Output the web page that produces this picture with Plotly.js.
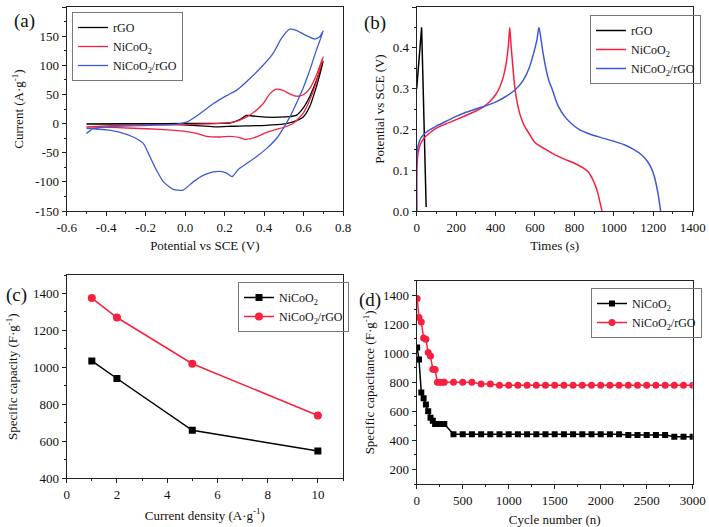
<!DOCTYPE html>
<html><head><meta charset="utf-8">
<script src="https://cdn.plot.ly/plotly-3.0.1.min.js"></script>
<style>html,body{margin:0;padding:0;background:#fff}#chart{width:709px;height:527px}</style>
</head><body><div id="chart"></div>
<script>
// ---------- (a) CV curves ----------
const cvRgoV = [-0.5,-0.3,-0.1,0.1,0.226,0.277,0.31,0.344,0.412,0.479,0.53,0.563,0.597,0.631,0.665,0.7,0.665,0.631,0.597,0.547,0.496,0.41,0.31,0.24,0.159,0.08,-0.01,-0.2,-0.5];
const cvRgoI = [-0.6,-0.3,0,0.5,1,7,14,13,11,11,12,14,26,46,74,107,63,29,11,3,-1,-3,-4,-4.6,-5.7,-4,-2,-1,-1];
const cvNiV = [-0.5,-0.35,-0.1,0.16,0.243,0.31,0.361,0.395,0.429,0.462,0.496,0.53,0.563,0.597,0.631,0.665,0.7,0.665,0.631,0.597,0.547,0.513,0.462,0.412,0.361,0.303,0.277,0.226,0.176,0.109,0.058,-0.01,-0.128,-0.263,-0.431,-0.5];
const cvNiI = [-5.7,-3,-2,0,2,11,23,34,51,59,57,51,47,49,60,83,115,71,40,17,0,-5,-10,-15,-23,-27,-24,-22,-23,-22,-17,-13,-10,-8,-6,-6];
const cvCompV = [-0.5,-0.465,-0.35,-0.18,-0.04,0.01,0.075,0.142,0.21,0.26,0.327,0.395,0.445,0.488,0.53,0.563,0.614,0.656,0.682,0.7,0.665,0.631,0.597,0.563,0.53,0.496,0.462,0.412,0.361,0.31,0.268,0.238,0.21,0.176,0.142,0.091,0.041,-0.01,-0.06,-0.11,-0.145,-0.178,-0.212,-0.263,-0.33,-0.398,-0.465,-0.5];
const cvCompI = [-17,-8.6,-4.6,-2.9,-1,3,17,34,48,57,77,100,120,146,162,160,151,145,149,159,126,91,60,34,11,-9,-26,-43,-57,-69,-79,-91,-85,-82,-83,-89,-100,-114,-113,-100,-80,-57,-34,-23,-15,-11,-9,-8];
const cvXTicks = [-0.6,-0.4,-0.2,0.0,0.2,0.4,0.6,0.8];
const cvXText = ['-0.6','-0.4','-0.2','0.0','0.2','0.4','0.6','0.8'];
const cvYTicks = [-150,-100,-50,0,50,100,150,200];
const cvYText = ['-150','-100','-50','0','50','100','150','200'];

// ---------- (b) GCD curves ----------
const gcdRgoT = [0,12,25,48];
const gcdRgoV = [0.30,0.37,0.45,0.01];
const gcdNiT = [0,0,2,5,10,20,40,70,100,150,200,250,300,340,370,400,420,440,455,465,472,478,485,492,500,510,525,545,570,600,650,700,750,800,850,870,890,905,918,928,935,940];
const gcdNiV = [0,0.09,0.115,0.135,0.15,0.165,0.18,0.193,0.203,0.214,0.224,0.234,0.245,0.256,0.268,0.285,0.302,0.33,0.365,0.405,0.45,0.41,0.37,0.33,0.295,0.265,0.235,0.21,0.19,0.168,0.152,0.138,0.127,0.117,0.104,0.096,0.08,0.064,0.045,0.025,0.01,0];
const gcdCompT = [0,0,2,5,10,20,40,70,100,150,200,250,300,350,400,450,500,540,570,595,610,620,628,640,655,670,690,700,720,750,790,830,880,950,1000,1050,1100,1140,1170,1190,1205,1215,1225,1232,1237];
const gcdCompV = [0,0.13,0.145,0.155,0.165,0.178,0.19,0.2,0.208,0.22,0.232,0.242,0.25,0.258,0.267,0.28,0.297,0.32,0.35,0.39,0.42,0.45,0.43,0.39,0.35,0.32,0.295,0.28,0.255,0.232,0.212,0.198,0.188,0.178,0.171,0.163,0.151,0.138,0.122,0.105,0.085,0.065,0.04,0.018,0];

// ---------- (c) rate capability ----------
const curDensity = [1,2,5,10];
const capNi = [1035,940,660,548];
const capComp = [1375,1270,1020,740];

// ---------- (d) cycling ----------
const cycles = [5,25,50,75,100,125,150,175,200,225,250,275,300,400,500,600,700,800,900,1000,1100,1200,1300,1400,1500,1600,1700,1800,1900,2000,2100,2200,2300,2400,2500,2600,2700,2800,2900,3000];
const cycNi = [1040,957,730,690,647,601,557,535,513,513,513,513,513,443,443,443,443,443,443,443,443,443,443,443,443,443,443,443,443,443,443,443,437,437,437,437,437,426,426,426];
const cycComp = [1377,1246,1216,1106,1097,1005,982,891,888,800,800,800,800,800,800,800,788,788,780,780,780,780,780,780,780,780,780,780,780,780,780,780,780,780,780,780,780,780,780,780];

const BLACK = '#000000', RED = '#f5213f', BLUE = '#3f5bd2';
const FONT = 'Liberation Serif';

function ax(o) {
  return Object.assign({
    showline: true, linecolor: '#222', linewidth: 1, mirror: true,
    ticks: 'outside', ticklen: 4, tickcolor: '#222', tickwidth: 1,
    showgrid: false, zeroline: false, automargin: false,
    tickfont: {family: FONT, size: 13, color: '#111'}
  }, o);
}
function ttl(t, s) { return {text: t, font: {family: FONT, size: 13, color: '#111'}, standoff: s}; }

const traces = [
  {x: cvRgoV, y: cvRgoI, xaxis: 'x', yaxis: 'y', mode: 'lines', name: 'rGO', legend: 'legend',
   line: {color: BLACK, width: 1.3, shape: 'spline', smoothing: 0.6}},
  {x: cvNiV, y: cvNiI, xaxis: 'x', yaxis: 'y', mode: 'lines', name: 'NiCoO<sub>2</sub>', legend: 'legend',
   line: {color: RED, width: 1.3, shape: 'spline', smoothing: 0.6}},
  {x: cvCompV, y: cvCompI, xaxis: 'x', yaxis: 'y', mode: 'lines', name: 'NiCoO<sub>2</sub>/rGO', legend: 'legend',
   line: {color: BLUE, width: 1.3, shape: 'spline', smoothing: 0.6}},

  {x: gcdRgoT, y: gcdRgoV, xaxis: 'x2', yaxis: 'y2', mode: 'lines', name: 'rGO', legend: 'legend2',
   line: {color: BLACK, width: 1.5}},
  {x: gcdNiT, y: gcdNiV, xaxis: 'x2', yaxis: 'y2', mode: 'lines', name: 'NiCoO<sub>2</sub>', legend: 'legend2',
   line: {color: RED, width: 1.5, shape: 'spline', smoothing: 0.8}},
  {x: gcdCompT, y: gcdCompV, xaxis: 'x2', yaxis: 'y2', mode: 'lines', name: 'NiCoO<sub>2</sub>/rGO', legend: 'legend2',
   line: {color: BLUE, width: 1.5, shape: 'spline', smoothing: 0.8}},

  {x: curDensity, y: capNi, xaxis: 'x3', yaxis: 'y3', mode: 'lines+markers', name: 'NiCoO<sub>2</sub>', legend: 'legend3',
   line: {color: BLACK, width: 1.5}, marker: {symbol: 'square', size: 7, color: BLACK}},
  {x: curDensity, y: capComp, xaxis: 'x3', yaxis: 'y3', mode: 'lines+markers', name: 'NiCoO<sub>2</sub>/rGO', legend: 'legend3',
   line: {color: RED, width: 1.5}, marker: {symbol: 'circle', size: 8, color: RED}},

  {x: cycles, y: cycNi, xaxis: 'x4', yaxis: 'y4', mode: 'lines+markers', name: 'NiCoO<sub>2</sub>', legend: 'legend4',
   line: {color: BLACK, width: 1.5}, marker: {symbol: 'square', size: 6, color: BLACK}},
  {x: cycles, y: cycComp, xaxis: 'x4', yaxis: 'y4', mode: 'lines+markers', name: 'NiCoO<sub>2</sub>/rGO', legend: 'legend4',
   line: {color: RED, width: 1.5}, marker: {symbol: 'circle', size: 7, color: RED}}
];

function leg(x, y) {
  return {x: x, y: y, xanchor: 'left', yanchor: 'top', bgcolor: 'rgba(255,255,255,0)',
    bordercolor: '#777', borderwidth: 1, font: {family: FONT, size: 12, color: '#111'},
    tracegroupgap: 0, itemwidth: 30};
}

const W = 709, H = 527;
const layout = {
  width: W, height: H, margin: {l: 0, r: 0, t: 0, b: 0},
  paper_bgcolor: '#fff', plot_bgcolor: '#fff', showlegend: true,
  xaxis: ax({domain: [66.7/W, 343/W], range: [-0.6, 0.8], anchor: 'y',
    tickmode: 'array', tickvals: cvXTicks, ticktext: cvXText,
    minor: {ticks: 'outside', ticklen: 2, tickcolor: '#222', dtick: 0.1, tick0: 0},
    title: ttl('Potential vs SCE (V)', 7)}),
  yaxis: ax({domain: [1 - 211/H, 1 - 7/H], range: [-150, 200], anchor: 'x',
    tickmode: 'array', tickvals: cvYTicks, ticktext: cvYText,
    minor: {ticks: 'outside', ticklen: 2, tickcolor: '#222', dtick: 25, tick0: 0},
    title: ttl('Current (A·g<sup>-1</sup>)', 8)}),
  xaxis2: ax({domain: [416.7/W, 692.7/W], range: [0, 1400], anchor: 'y2', dtick: 200,
    minor: {ticks: 'outside', ticklen: 2, tickcolor: '#222', dtick: 100},
    title: ttl('Times (s)', 7)}),
  yaxis2: ax({domain: [1 - 211/H, 1 - 7/H], range: [0, 0.5], anchor: 'x2', dtick: 0.1, tickformat: '.1f',
    minor: {ticks: 'outside', ticklen: 2, tickcolor: '#222', dtick: 0.05},
    title: ttl('Potential vs SCE (V)', 5)}),
  xaxis3: ax({domain: [66.7/W, 343/W], range: [0, 11], anchor: 'y3', dtick: 2,
    minor: {ticks: 'outside', ticklen: 2, tickcolor: '#222', dtick: 1},
    title: ttl('Current density (A·g<sup>-1</sup>)', 9)}),
  yaxis3: ax({domain: [1 - 478.3/H, 1 - 275/H], range: [400, 1500], anchor: 'x3', dtick: 200, tick0: 400,
    minor: {ticks: 'outside', ticklen: 2, tickcolor: '#222', dtick: 100},
    title: ttl('Specific capacity (F·g<sup>-1</sup>)', 12)}),
  xaxis4: ax({domain: [416.7/W, 692.7/W], range: [0, 3000], anchor: 'y4', dtick: 500,
    minor: {ticks: 'outside', ticklen: 2, tickcolor: '#222', dtick: 250},
    title: ttl('Cycle number (n)', 9)}),
  yaxis4: ax({domain: [1 - 484/H, 1 - 280.7/H], range: [100, 1500], anchor: 'x4', dtick: 200, tick0: 200,
    minor: {ticks: 'outside', ticklen: 2, tickcolor: '#222', dtick: 100},
    title: ttl('Specific capacitance (F·g<sup>-1</sup>)', 5)}),
  legend: leg(72/W, 1 - 12/H),
  legend2: leg(590/W, 1 - 15/H),
  legend3: leg(238/W, 1 - 282/H),
  legend4: leg(591/W, 1 - 288/H),
  annotations: [
    {text: '(a)', x: 12/W, y: 1 - 8/H, xref: 'paper', yref: 'paper', xanchor: 'left', yanchor: 'top', showarrow: false, font: {family: FONT, size: 19, color: '#111'}},
    {text: '(b)', x: 362/W, y: 1 - 10/H, xref: 'paper', yref: 'paper', xanchor: 'left', yanchor: 'top', showarrow: false, font: {family: FONT, size: 19, color: '#111'}},
    {text: '(c)', x: 4/W, y: 1 - 282/H, xref: 'paper', yref: 'paper', xanchor: 'left', yanchor: 'top', showarrow: false, font: {family: FONT, size: 19, color: '#111'}},
    {text: '(d)', x: 357/W, y: 1 - 287/H, xref: 'paper', yref: 'paper', xanchor: 'left', yanchor: 'top', showarrow: false, font: {family: FONT, size: 19, color: '#111'}}
  ]
};

Plotly.newPlot('chart', traces, layout, {displayModeBar: false, staticPlot: true});
</script>
</body></html>
